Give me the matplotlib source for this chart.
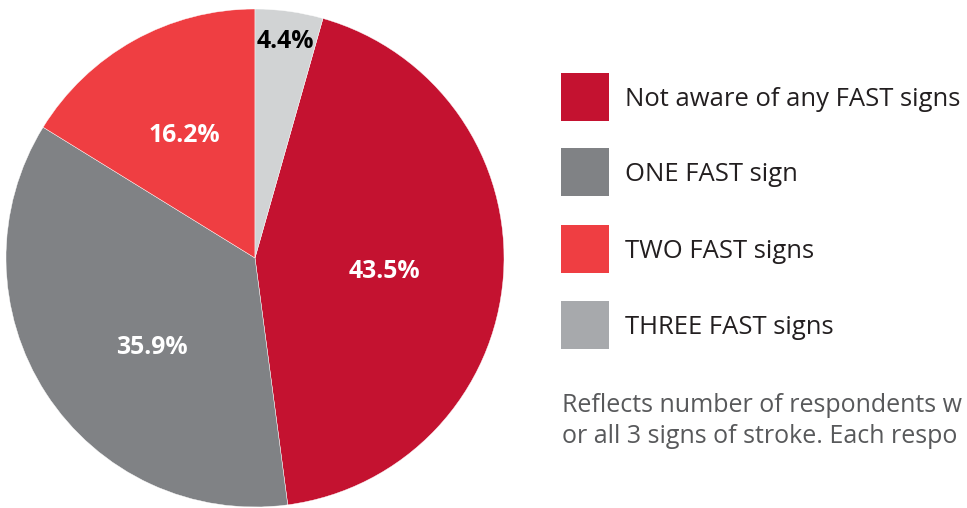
import matplotlib
matplotlib.use("Agg")
import matplotlib.pyplot as plt
from matplotlib.patches import Rectangle

categories = ["Not aware of any FAST signs", "ONE FAST sign", "TWO FAST signs", "THREE FAST signs"]
values = [43.5, 35.9, 16.2, 4.4]
labels = ["43.5%", "35.9%", "16.2%", "4.4%"]
slice_colors = ["#C41230", "#808285", "#EF3E42", "#D1D3D4"]
legend_colors = ["#C41230", "#808285", "#EF3E42", "#A7A9AC"]
label_colors = ["white", "white", "white", "black"]
note_lines = ["Reflects number of respondents w",
              "or all 3 signs of stroke. Each respo"]

plt.rcParams['font.family'] = ['Open Sans', 'DejaVu Sans']

W, H = 967, 508
fig = plt.figure(figsize=(W / 100, H / 100), dpi=100)
fig.patch.set_facecolor("white")
renderer = fig.canvas.get_renderer()


def fit_size(txt, target_px, base=15.0):
    txt.set_fontsize(base)
    w = txt.get_window_extent(renderer=renderer).width
    s = base * target_px / w
    txt.set_fontsize(s)
    return s


cx, cy, r = 255, 258, 249
ax = fig.add_axes([(cx - r) / W, (H - cy - r) / H, 2 * r / W, 2 * r / H])
start = 90 - values[3] / sum(values) * 360
wedges, _ = ax.pie(values, colors=slice_colors, startangle=start, counterclock=False,
                   radius=1, wedgeprops=dict(linewidth=0.3, edgecolor="white"))
ax.set_xlim(-1, 1)
ax.set_ylim(-1, 1)
ax.set_aspect("equal")
ax.axis("off")

label_pos = [(384, 271), (152, 347), (184, 135), (285, 42)]
lab_texts = []
for (px, py), lab, col in zip(label_pos, labels, label_colors):
    t = ax.text((px - cx) / r, (cy - py) / r, lab, ha="center", va="center",
                fontsize=15, fontweight="bold", color=col)
    lab_texts.append(t)
s = fit_size(lab_texts[0], 72)
for t in lab_texts:
    t.set_fontsize(s)

# legend
sq = 48
tops = [73, 148, 225, 301]
leg_texts = []
for t, cat, col in zip(tops, categories, legend_colors):
    fig.patches.append(Rectangle((561 / W, (H - t - sq) / H), sq / W, sq / H,
                                 transform=fig.transFigure, facecolor=col, edgecolor="none"))
    tx = fig.text(625 / W, (H - t - 33) / H, cat, ha="left", va="baseline",
                  fontsize=15.5, color="#231F20")
    leg_texts.append(tx)
s = fit_size(leg_texts[0], 336)
for tx in leg_texts:
    tx.set_fontsize(s)

note_texts = []
for i, line in enumerate(note_lines):
    tx = fig.text(562 / W, (H - 412 - i * 31) / H, line, ha="left", va="baseline",
                  fontsize=14, color="#58595B")
    note_texts.append(tx)
s = fit_size(note_texts[0], 400)
for tx in note_texts:
    tx.set_fontsize(s)

fig.savefig("out.png", dpi=100)
